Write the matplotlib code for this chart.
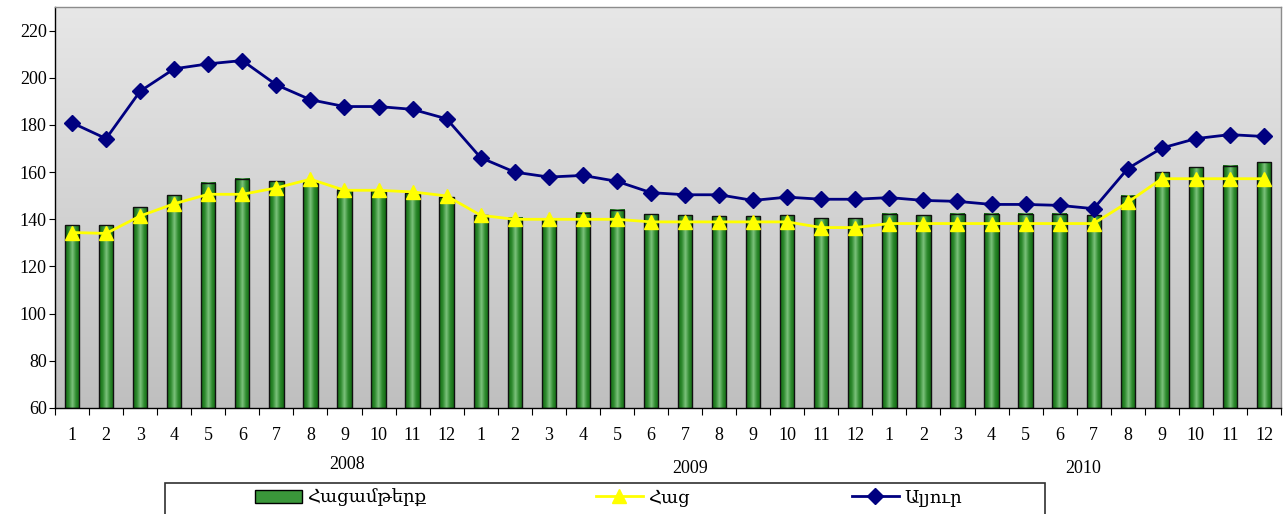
import numpy as np
import matplotlib
matplotlib.use("Agg")
import matplotlib.pyplot as plt
from matplotlib.colors import LinearSegmentedColormap
from matplotlib.lines import Line2D
from matplotlib.patches import Patch, Rectangle

plt.rcParams['font.family'] = ['Liberation Serif', 'DejaVu Serif']

# ---- data ----
months = [str(m) for m in range(1, 13)] * 3
years = ['2008', '2009', '2010']
bread_products = [137.5, 137.5, 145.2, 150.2, 155.4, 157.2, 156.1, 155.5, 152.6, 152.0, 151.0, 149.4,
                  141.7, 140.7, 140.3, 142.8, 144.1, 142.2, 141.7, 141.3, 141.3, 141.7, 140.5, 140.5,
                  142.4, 141.7, 142.4, 142.4, 142.4, 142.4, 141.7, 149.9, 160.0, 162.1, 162.7, 164.1]
bread = [134.4, 134.0, 141.4, 146.6, 150.6, 150.6, 153.3, 157.0, 152.3, 152.3, 151.6, 149.9,
         141.7, 140.0, 140.0, 140.0, 140.0, 138.9, 138.9, 138.9, 138.9, 138.9, 136.5, 136.5,
         138.2, 138.2, 138.2, 138.2, 138.2, 138.2, 138.2, 147.2, 157.2, 157.2, 157.2, 157.2]
flour = [180.9, 174.2, 194.3, 203.8, 205.9, 207.3, 197.0, 190.7, 187.8, 187.8, 186.6, 182.6,
         166.1, 160.0, 157.9, 158.6, 156.1, 151.3, 150.4, 150.4, 148.0, 149.4, 148.5, 148.5,
         149.2, 148.0, 147.6, 146.3, 146.3, 145.9, 144.5, 161.5, 170.2, 174.2, 175.9, 175.1]
labels = ['Հացամթերք', 'Հաց', 'Ալյուր']

x = np.arange(len(months))
ymin, ymax = 60, 230
width = 0.42

fig = plt.figure(figsize=(12.84, 5.14), dpi=100)
ax = fig.add_axes([55/1284, 106/514, 1226/1284, 401/514])

# background gradient
bg = LinearSegmentedColormap.from_list('bg', ['#bfbfbf', '#e7e7e7'])
ax.imshow(np.linspace(0, 1, 256).reshape(-1, 1), cmap=bg, origin='lower', aspect='auto',
          extent=[0, 1, 0, 1], transform=ax.transAxes, zorder=0)

# bars with a cylinder-like gradient
bar_cmap = LinearSegmentedColormap.from_list('barg', ['#126d12', '#2e8a2e', '#7cc27c', '#2e8a2e', '#126d12'])
prof = np.linspace(0, 1, 64).reshape(1, -1)
for xi, v in zip(x, bread_products):
    ax.imshow(prof, cmap=bar_cmap, aspect='auto', extent=[xi - width/2, xi + width/2, ymin, v],
              zorder=2)
    ax.add_patch(Rectangle((xi - width/2, ymin), width, v - ymin, fill=False,
                           edgecolor='#101010', linewidth=1.0, zorder=2.5))

ax.plot(x, bread, color='#ffff00', linewidth=2.0, marker='^', markersize=9.5, zorder=3)
ax.plot(x, flour, color='#000080', linewidth=2.0, marker='D', markersize=8, zorder=4)

ax.set_xlim(-0.5, len(months) - 0.5)
ax.set_ylim(ymin, ymax)
ax.set_yticks(range(60, 221, 20))
ax.set_xticks(x)
ax.set_xticklabels(months)
ax.set_xticks(np.arange(-0.5, len(months), 1), minor=True)
ax.tick_params(axis='x', which='major', length=0, pad=14, labelsize=13)
ax.tick_params(axis='x', which='minor', length=5, width=0.8, direction='out')
ax.tick_params(axis='y', length=4, width=0.8, pad=2, labelsize=13)
ax.spines['left'].set_color('black')
ax.spines['bottom'].set_color('black')
ax.spines['top'].set_color('#8c8c8c')
ax.spines['right'].set_color('#8c8c8c')
for s in ax.spines.values():
    s.set_linewidth(1.0)

# year labels under the months
tr = ax.get_xaxis_transform()
for yr, xpos, ypos in zip(years, [8.07, 18.16, 29.7], [-0.14, -0.152, -0.152]):
    ax.text(xpos, ypos, yr, transform=tr, ha='center', va='center', fontsize=13)

# legend: frame + three separate entries
fig.patches.append(Rectangle((165/1284, -0.02), 880/1284, (514-483)/514 + 0.02,
                             transform=fig.transFigure, fill=False, edgecolor='#303030',
                             linewidth=1.2))
handles = [Patch(facecolor='#3a973a', edgecolor='black'),
           Line2D([], [], color='#ffff00', linewidth=2.0, marker='^', markersize=9.5),
           Line2D([], [], color='#000080', linewidth=2.0, marker='D', markersize=8)]
for h, lab, xp in zip(handles, labels, [255, 596, 852]):
    fig.legend([h], [lab], loc='center left', bbox_to_anchor=(xp/1284, 16/514), frameon=False,
               fontsize=13, handlelength=2.6, handletextpad=0.3, borderpad=0, borderaxespad=0)

fig.savefig('out.png', dpi=100, facecolor='white')
